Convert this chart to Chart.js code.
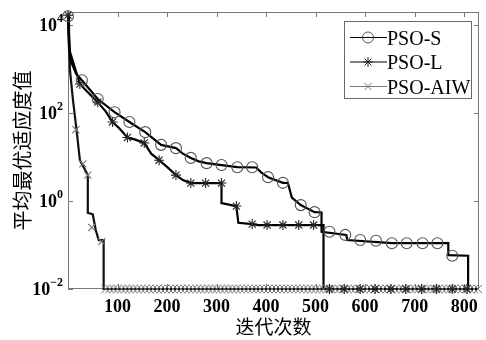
<!DOCTYPE html>
<html lang="zh">
<head>
<meta charset="UTF-8">
<title>PSO convergence</title>
<script src="https://cdn.jsdelivr.net/npm/chart.js"></script>
<style>
  body { margin: 0; background: #fff; }
  canvas { display: block; }
</style>
</head>
<body>
<canvas id="chart" width="486" height="340"></canvas>
<script>
// axis ticks
const xTicks = [100, 200, 300, 400, 500, 600, 700, 800];
const yExps = [-2, 0, 2, 4];
const FLOOR = 0.01;

// PSO-S (circles)
const sLineIter = [0, 2, 6, 16, 28, 60, 94, 124, 156, 188, 218, 232, 248, 264, 280, 310, 342, 380, 390, 404, 434, 444, 452, 470, 498, 512, 512, 562, 564, 654, 768, 768, 808, 808, 830];
const sLineVal = [17000, 3000, 1500, 800, 560, 210, 105, 63, 37, 19, 16, 12, 9.6, 8, 7.3, 6.6, 5.9, 5.8, 4.5, 3.5, 2.6, 2.6, 1.2, 0.81, 0.56, 0.55, 0.2, 0.17, 0.13, 0.11, 0.11, 0.059, 0.057, 0.01, 0.01];
const sMarkIter = [0, 28, 60, 94, 124, 156, 188, 218, 248, 280, 310, 342, 372, 404, 434, 470, 498, 528, 560, 590, 622, 654, 684, 716, 746, 776];
const sMarkVal = [16000, 560, 210, 105, 63, 37, 19, 16, 9.6, 7.3, 6.6, 5.9, 5.9, 3.5, 2.6, 0.81, 0.56, 0.2, 0.17, 0.13, 0.125, 0.11, 0.11, 0.11, 0.11, 0.057];

// PSO-L (stars)
const lLineIter = [0, 4, 24, 40, 60, 76, 90, 104, 120, 136, 154, 168, 184, 200, 218, 232, 248, 310, 310, 340, 344, 372, 384, 516, 516, 830];
const lLineVal = [17000, 2500, 460, 300, 178, 110, 63, 45, 28, 25, 21, 12, 8.5, 6, 3.9, 3, 2.57, 2.57, 0.9, 0.77, 0.32, 0.3, 0.285, 0.285, 0.01, 0.01];
const lMarkIter = [0, 24, 60, 90, 120, 154, 184, 218, 248, 278, 310, 340, 372, 402, 434, 466, 496, 528, 558, 590, 620, 652, 682, 714, 744, 776, 806];
const lMarkVal = [17000, 460, 178, 63, 28, 21, 8.5, 3.9, 2.57, 2.57, 2.57, 0.77, 0.3, 0.285, 0.285, 0.285, 0.285, 0.01, 0.01, 0.01, 0.01, 0.01, 0.01, 0.01, 0.01, 0.01, 0.01];

// PSO-AIW (x)
const aLineIter = [0, 4, 10, 18, 24, 40, 40, 50, 56, 62, 72, 72, 830];
const aLineVal = [17000, 950, 200, 35, 8.5, 3.9, 0.54, 0.5, 0.22, 0.13, 0.13, 0.01, 0.01];
const aMarkIter = [16, 30, 40, 48, 68];
const aMarkVal = [42, 7, 3.9, 0.25, 0.12];
const aFloorIter = [76, 84, 92, 100, 108, 116, 124, 132, 140, 148, 156, 164, 172, 180, 188, 196, 204, 212, 220, 228, 236, 244, 252, 260, 268, 276, 284, 292, 300, 308, 316, 324, 332, 340, 348, 356, 364, 372, 380, 388, 396, 404, 412, 420, 428, 436, 444, 452, 460, 468, 476, 484, 492, 500, 508, 516, 524, 532, 540, 548, 556, 564, 572, 580, 588, 596, 604, 612, 620, 628, 636, 644, 652, 660, 668, 676, 684, 692, 700, 708, 716, 724, 732, 740, 748, 756, 764, 772, 780, 788, 796, 804, 812, 820, 828];

const pts = (xs, ys) => xs.map((x, i) => ({ x: x, y: ys[i] }));

const lineDs = (data, color) => ({
  data: data, borderColor: color, borderWidth: 2.2, pointRadius: 0,
  tension: 0, fill: false, clip: false
});
const markDs = (data, style, r, color, w) => ({
  data: data, showLine: false, pointStyle: style, pointRadius: r,
  pointBorderColor: color, pointBorderWidth: w,
  pointBackgroundColor: 'rgba(0,0,0,0)', clip: false
});

const legendItems = [
  { text: 'PSO-S', style: 'circle', line: '#000', mark: '#555' },
  { text: 'PSO-L', style: 'star', line: '#000', mark: '#222' },
  { text: 'PSO-AIW', style: 'x', line: '#777', mark: '#777' }
];

function marker(ctx, style, cx, cy, r) {
  ctx.beginPath();
  if (style === 'circle') {
    ctx.arc(cx, cy, r, 0, Math.PI * 2);
  } else if (style === 'star') {
    ctx.moveTo(cx - r, cy); ctx.lineTo(cx + r, cy);
    ctx.moveTo(cx, cy - r); ctx.lineTo(cx, cy + r);
    const d = r * 0.7;
    ctx.moveTo(cx - d, cy - d); ctx.lineTo(cx + d, cy + d);
    ctx.moveTo(cx - d, cy + d); ctx.lineTo(cx + d, cy - d);
  } else {
    const d = r * 0.7;
    ctx.moveTo(cx - d, cy - d); ctx.lineTo(cx + d, cy + d);
    ctx.moveTo(cx - d, cy + d); ctx.lineTo(cx + d, cy - d);
  }
  ctx.stroke();
}

const frame = {
  id: 'frame',
  beforeDatasetsDraw(chart) {
    const { ctx, chartArea: a, scales: { x, y } } = chart;
    ctx.save();
    ctx.strokeStyle = '#777';
    ctx.lineWidth = 1;
    ctx.strokeRect(a.left + 0.5, a.top + 0.5, a.right - a.left - 1, a.bottom - a.top - 1);
    ctx.beginPath();
    xTicks.forEach(v => {
      const px = Math.round(x.getPixelForValue(v)) + 0.5;
      ctx.moveTo(px, a.top); ctx.lineTo(px, a.top + 5);
      ctx.moveTo(px, a.bottom); ctx.lineTo(px, a.bottom - 5);
    });
    yExps.forEach(e => {
      const py = Math.round(y.getPixelForValue(Math.pow(10, e))) + 0.5;
      ctx.moveTo(a.left, py); ctx.lineTo(a.left + 5, py);
      ctx.moveTo(a.right, py); ctx.lineTo(a.right - 5, py);
    });
    ctx.stroke();
    ctx.restore();
  },
  afterDraw(chart) {
    const { ctx, chartArea: a, scales: { y } } = chart;
    ctx.save();
    // y tick labels as 10 with superscript exponent
    ctx.fillStyle = '#000';
    ctx.textBaseline = 'middle';
    yExps.forEach(e => {
      const py = y.getPixelForValue(Math.pow(10, e));
      const exp = e < 0 ? '\u2212' + (-e) : String(e);
      ctx.font = 'bold 12px "Liberation Serif"';
      const ew = ctx.measureText(exp).width;
      const right = a.left - 5;
      ctx.textAlign = 'left';
      ctx.fillText(exp, right - ew, py - 6);
      ctx.font = 'bold 18px "Liberation Serif"';
      ctx.textAlign = 'right';
      ctx.fillText('10', right - ew, py + 1);
    });
    // legend box
    const bx = 344, by = 21, bw = 127, bh = 77;
    ctx.fillStyle = '#fff';
    ctx.fillRect(bx, by, bw, bh);
    ctx.strokeStyle = '#666';
    ctx.lineWidth = 1;
    ctx.strokeRect(bx + 0.5, by + 0.5, bw, bh);
    ctx.font = '20px "Liberation Serif"';
    ctx.textAlign = 'left';
    ctx.textBaseline = 'alphabetic';
    legendItems.forEach((it, i) => {
      const ly = 37.5 + i * 24.5;
      ctx.strokeStyle = it.line;
      ctx.beginPath(); ctx.moveTo(350, ly); ctx.lineTo(387, ly); ctx.stroke();
      ctx.strokeStyle = it.mark;
      marker(ctx, it.style, 368, ly, it.style === 'circle' ? 5.5 : 5);
      ctx.fillStyle = '#000';
      ctx.fillText(it.text, 387, ly + 7);
    });
    ctx.restore();
  }
};

new Chart(document.getElementById('chart'), {
  type: 'line',
  data: {
    datasets: [
      markDs(pts(sMarkIter, sMarkVal), 'circle', 5.5, '#555', 1.1),
      markDs(pts(lMarkIter, lMarkVal), 'star', 5, '#222', 1.1),
      markDs(pts(aMarkIter, aMarkVal), 'crossRot', 5, '#777', 1.1),
      markDs(aFloorIter.map(v => ({ x: v, y: FLOOR })), 'crossRot', 6, '#777', 1),
      lineDs(pts(sLineIter, sLineVal), '#000'),
      lineDs(pts(lLineIter, lLineVal), '#000'),
      lineDs(pts(aLineIter, aLineVal), '#111')
    ]
  },
  options: {
    responsive: false,
    animation: false,
    layout: { padding: { top: 12, right: 3, left: 0, bottom: 0 } },
    plugins: { legend: { display: false }, tooltip: { enabled: false } },
    scales: {
      x: {
        type: 'linear', min: 0, max: 830,
        afterFit: s => { s.height = 51; },
        afterBuildTicks: s => { s.ticks = xTicks.map(v => ({ value: v })); },
        grid: { display: false, drawTicks: false },
        border: { display: false },
        ticks: {
          autoSkip: false, maxRotation: 0, padding: 8, color: '#000',
          font: { family: '"Liberation Serif"', size: 18, weight: 'bold' }
        },
        title: {
          display: true, text: '迭代次数', color: '#000',
          font: { family: '"Noto Sans CJK SC"', size: 19 },
          padding: { top: 0, bottom: 2 }
        }
      },
      y: {
        type: 'logarithmic', min: 0.01, max: 20000,
        afterFit: s => { s.width = 68; },
        grid: { display: false, drawTicks: false },
        border: { display: false },
        ticks: { display: false },
        title: {
          display: true, text: '平均最优适应度值', color: '#000',
          font: { family: '"Noto Sans CJK SC"', size: 20 },
          padding: { top: 10, bottom: 0 }
        }
      }
    }
  },
  plugins: [frame]
});
</script>
</body>
</html>
